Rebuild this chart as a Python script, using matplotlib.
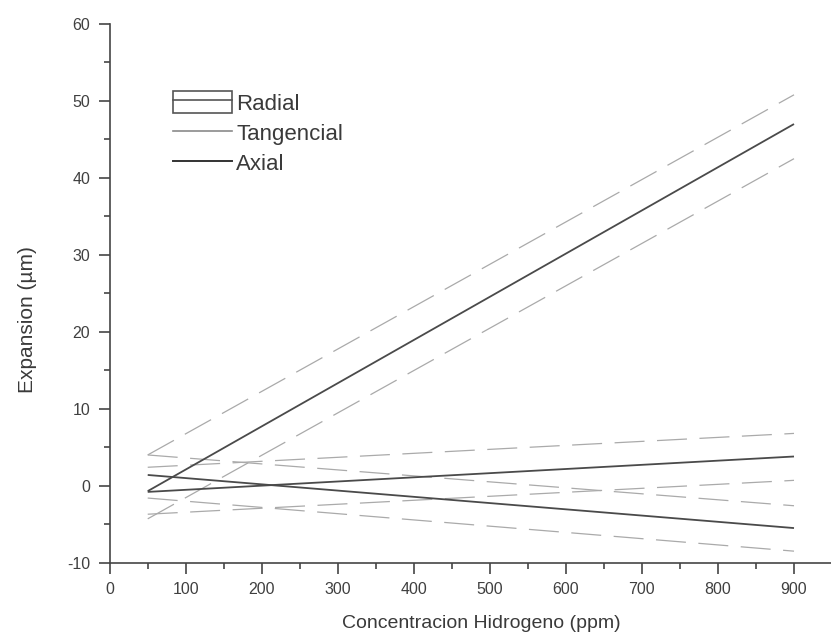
import matplotlib
matplotlib.use("Agg")
import matplotlib.pyplot as plt
from matplotlib.patches import Rectangle
from matplotlib.lines import Line2D
from matplotlib.legend_handler import HandlerTuple
from matplotlib.ticker import MultipleLocator, FixedLocator

plt.rcParams['font.family'] = ['Liberation Sans', 'DejaVu Sans']

# Fit lines (solid) and their bands (dashed), evaluated at the ends of the range
conc = [50, 900]

radial = [-0.7, 47.0]
radial_upper = [4.0, 50.8]
radial_lower = [-4.3, 42.5]

tangencial = [-0.8, 3.8]
tangencial_upper = [2.4, 6.8]
tangencial_lower = [-3.7, 0.7]

axial = [1.4, -5.5]
axial_upper = [4.0, -2.6]
axial_lower = [-1.6, -8.5]

x_ticks = [0, 100, 200, 300, 400, 500, 600, 700, 800, 900]
y_ticks = [-10, 0, 10, 20, 30, 40, 50, 60]

W, H = 831, 643
fig = plt.figure(figsize=(W / 100, H / 100), dpi=100)
px_per_x = (794 - 109.7) / 900
ax = fig.add_axes([109.7 / W, 1 - 562.7 / H, 950 * px_per_x / W, (562.7 - 24) / H])

solid_kw = dict(color='#4a4a4a', lw=1.3, solid_capstyle='butt')
band_kw = dict(color='#aaaaaa', lw=0.9, linestyle=(0, (24, 10)))

for band in (radial_upper, radial_lower, tangencial_upper, tangencial_lower,
             axial_upper, axial_lower):
    ax.plot(conc, band, **band_kw)

ax.plot(conc, radial, **solid_kw)
ax.plot(conc, tangencial, **solid_kw)
ax.plot(conc, axial, **solid_kw)

ax.set_xlim(0, 950)
ax.set_ylim(-10, 60)

spine_col = '#454545'
for side in ('top', 'right'):
    ax.spines[side].set_visible(False)
for side in ('left', 'bottom'):
    ax.spines[side].set_color(spine_col)
    ax.spines[side].set_linewidth(1.2)

ax.xaxis.set_major_locator(FixedLocator(x_ticks))
ax.xaxis.set_minor_locator(MultipleLocator(50))
ax.yaxis.set_major_locator(FixedLocator(y_ticks))
ax.yaxis.set_minor_locator(MultipleLocator(5))
ax.set_xticklabels([str(v) for v in x_ticks])
ax.set_yticklabels([str(v) for v in y_ticks])

ax.tick_params(which='major', direction='out', length=8, width=1.2,
               color=spine_col, labelsize=11.5, labelcolor='#404040', pad=6)
ax.tick_params(which='minor', direction='out', length=4.5, width=1.2,
               color=spine_col)

ax.set_xlabel('Concentracion Hidrogeno (ppm)', fontsize=14, color='#3a3a3a')
ax.xaxis.set_label_coords(0.515, -0.098)
ax.set_ylabel('Expansion (\u00b5m)', fontsize=15, color='#3a3a3a')
ax.yaxis.set_label_coords(-0.101, 0.452)

# Legend
box = Rectangle((0, 0), 1, 1, facecolor='none', edgecolor='#555555', lw=1.2)
box_line = Line2D([], [], color='#555555', lw=1.2)
tan_line = Line2D([], [], color='#8a8a8a', lw=1.2)
ax_line = Line2D([], [], color='#333333', lw=1.4)
leg = ax.legend([(box, box_line), tan_line, ax_line],
                ['Radial', 'Tangencial', 'Axial'],
                handler_map={tuple: HandlerTuple(ndivide=1)},
                loc='upper left', bbox_to_anchor=(173 / W, 1 - 91 / H),
                bbox_transform=fig.transFigure, frameon=False,
                borderpad=0, borderaxespad=0, handlelength=2.66,
                handleheight=1.17, handletextpad=0.18, labelspacing=0.3,
                fontsize=16)
for t in leg.get_texts():
    t.set_color('#3a3a3a')

fig.savefig('out.png', dpi=100)
